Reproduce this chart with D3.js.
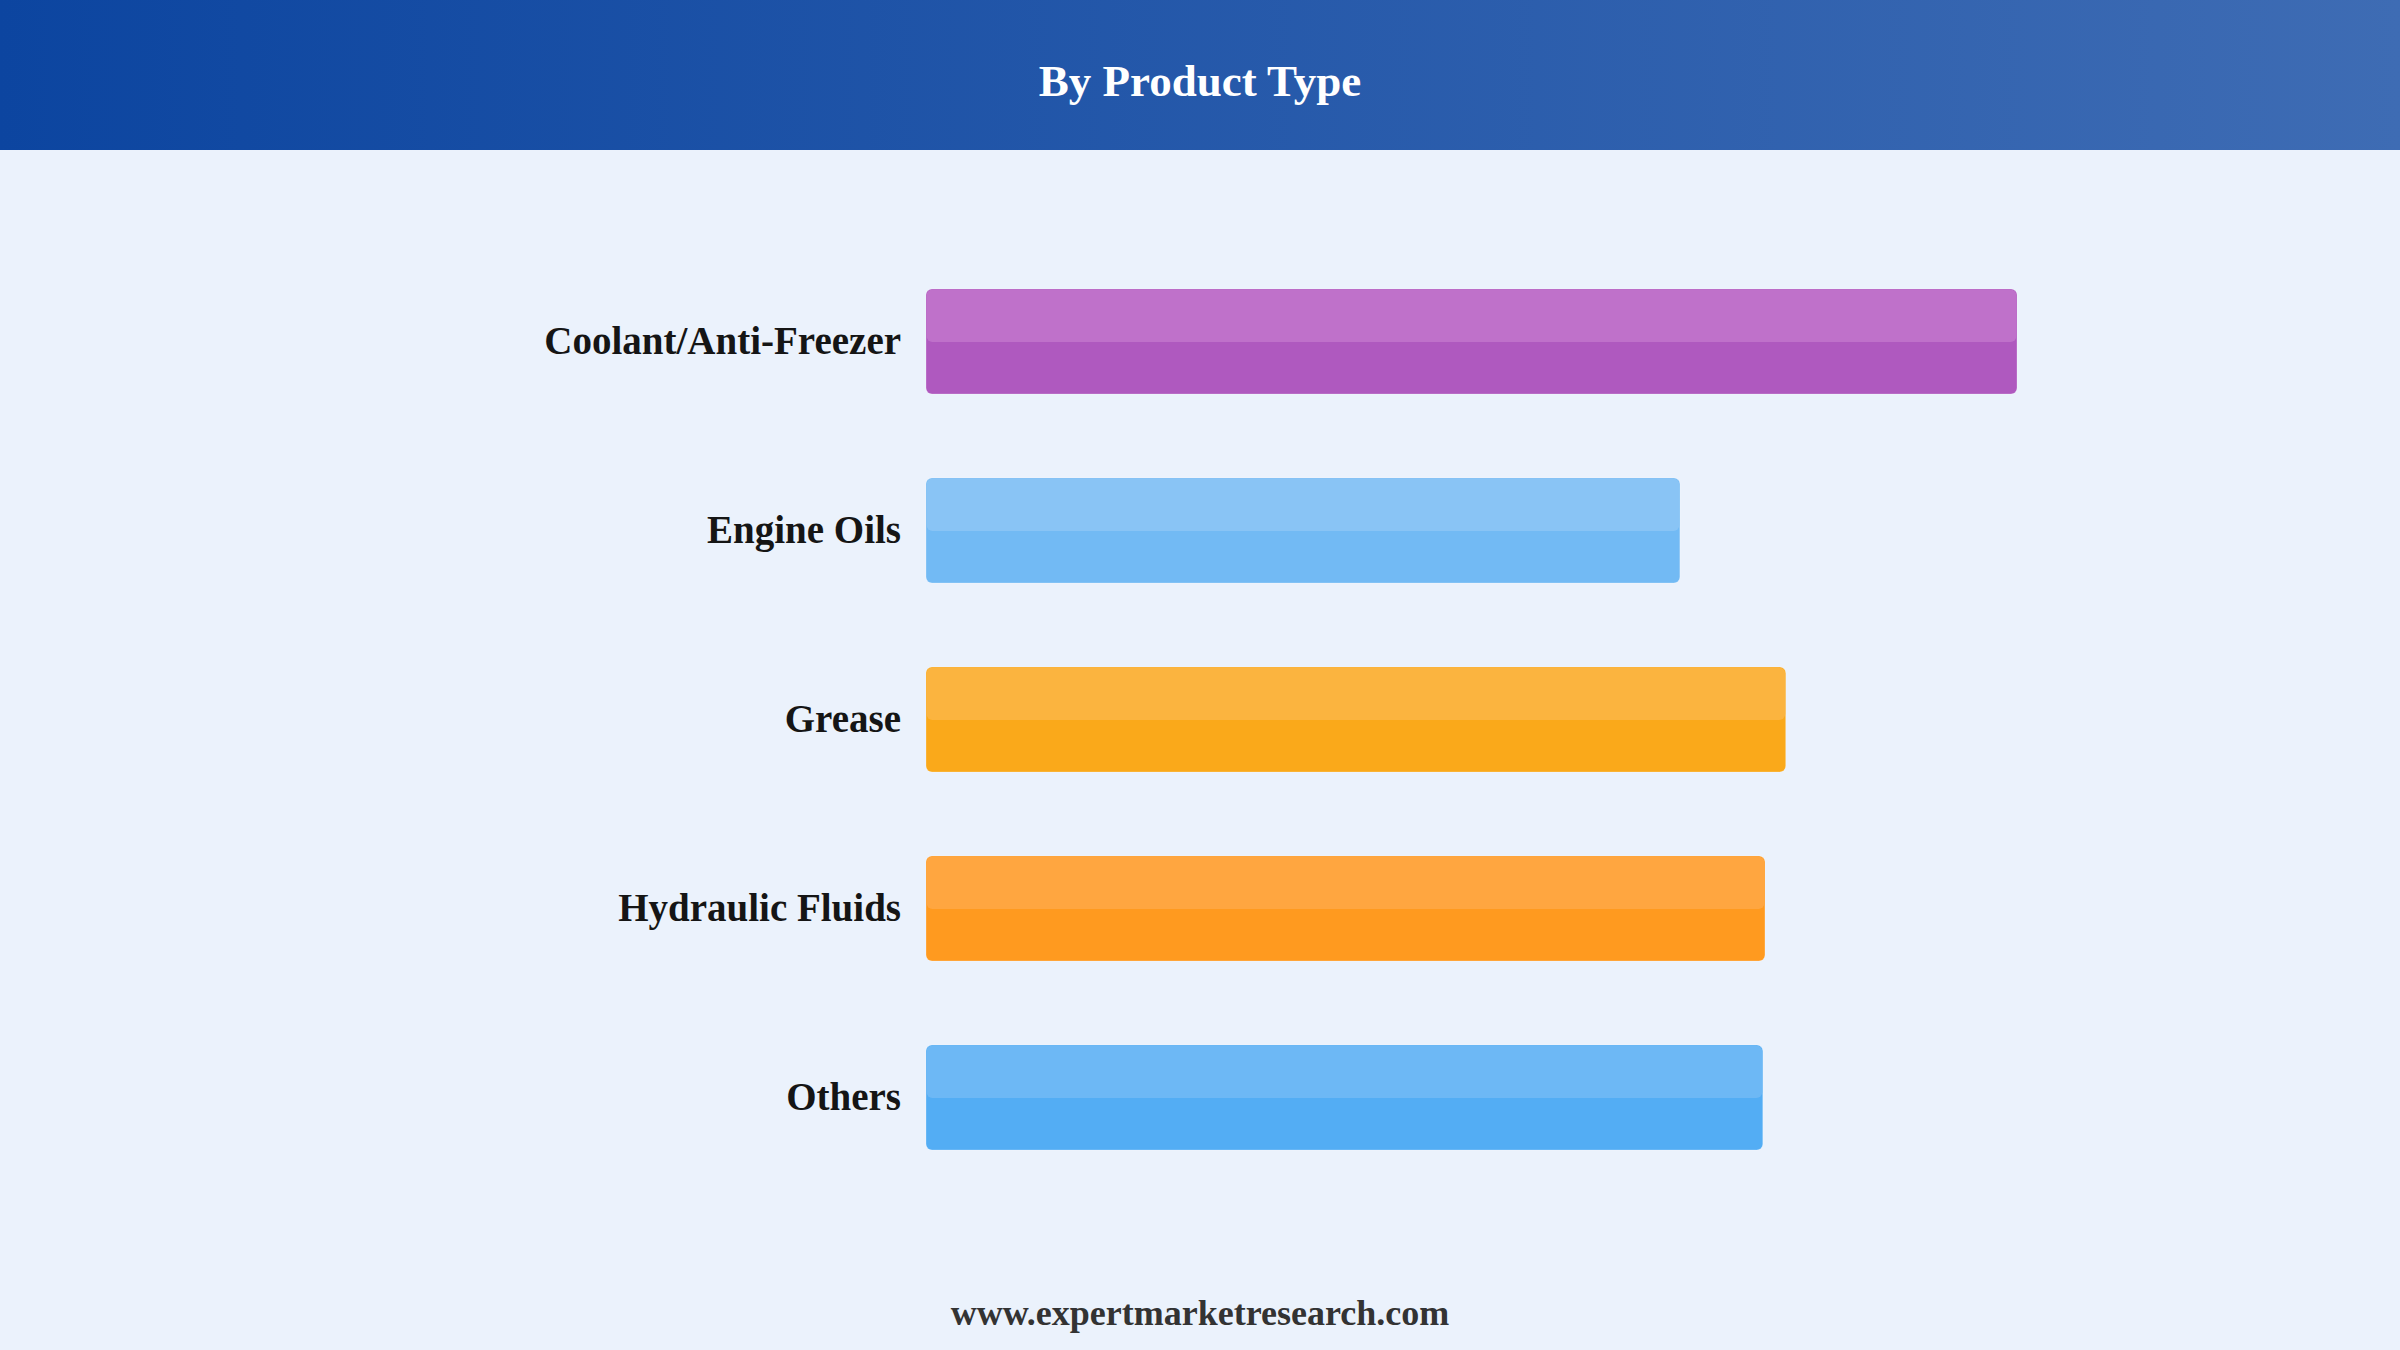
<!DOCTYPE html>
<html>
<head>
<meta charset="utf-8">
<script src="https://cdn.jsdelivr.net/npm/d3@7"></script>
<style>
  body { margin: 0; background: #ebf2fc; }
  svg { display: block; }
</style>
</head>
<body>
<svg width="2400" height="1350"></svg>
<script>
// Chart data (relative bar lengths, no axis shown)
const categories = ["Coolant/Anti-Freezer", "Engine Oils", "Grease", "Hydraulic Fluids", "Others"];
const values = [100, 69.1, 78.8, 76.9, 76.7];
const topColors = ["#bf71ca", "#89c4f5", "#fbb43f", "#ffa640", "#6db8f5"];
const bottomColors = ["#af59bf", "#72baf4", "#faa91a", "#ff9a1f", "#53adf4"];

const title = "By Product Type";
const footer = "www.expertmarketresearch.com";

const svg = d3.select("svg");
const W = +svg.attr("width");
const H = +svg.attr("height");
const headerH = 150;

// header gradient
const defs = svg.append("defs");
const grad = defs.append("linearGradient").attr("id", "hdr").attr("x1", "0%").attr("x2", "100%");
grad.append("stop").attr("offset", "0%").attr("stop-color", "#0c45a0");
grad.append("stop").attr("offset", "100%").attr("stop-color", "#3e6cb4");

svg.append("rect").attr("width", W).attr("height", H).attr("fill", "#ebf2fc");
svg.append("rect").attr("width", W).attr("height", headerH).attr("fill", "url(#hdr)");

svg.append("text")
  .attr("x", W / 2)
  .attr("y", 96)
  .attr("text-anchor", "middle")
  .attr("fill", "#fff")
  .style("font-family", "'Liberation Serif', 'Times New Roman', serif")
  .style("font-weight", "bold")
  .style("font-size", "45px")
  .text(title);

// scales
const left = 926;
const x = d3.scaleLinear().domain([0, d3.max(values)]).range([0, 1091]);
const y = d3.scaleBand().domain(categories).range([247, 1192]).paddingInner(0.444).paddingOuter(0.222);

const data = categories.map((c, i) => ({ cat: c, value: values[i], top: topColors[i], bottom: bottomColors[i] }));

const g = svg.append("g").attr("transform", `translate(${left},0)`);

const bar = g.selectAll(".bar").data(data).enter().append("g").attr("class", "bar");

// lower (full) bar
bar.append("rect")
  .attr("x", 0)
  .attr("y", d => y(d.cat))
  .attr("width", d => x(d.value))
  .attr("height", y.bandwidth())
  .attr("rx", 6)
  .attr("fill", d => d.bottom)
  .attr("stroke", "#fff")
  .attr("stroke-opacity", 0.25)
  .attr("stroke-width", 1);

// lighter top half
bar.append("rect")
  .attr("x", 0.5)
  .attr("y", d => y(d.cat) + 0.5)
  .attr("width", d => x(d.value) - 1)
  .attr("height", y.bandwidth() / 2)
  .attr("rx", 6)
  .attr("fill", d => d.top);

// category labels
g.selectAll(".label").data(data).enter().append("text")
  .attr("class", "label")
  .attr("x", -25)
  .attr("y", d => y(d.cat) + y.bandwidth() / 2)
  .attr("dy", "0.33em")
  .attr("text-anchor", "end")
  .attr("fill", "#151515")
  .style("font-family", "'Liberation Serif', 'Times New Roman', serif")
  .style("font-weight", "bold")
  .style("font-size", "39px")
  .text(d => d.cat);

// footer
svg.append("text")
  .attr("x", W / 2)
  .attr("y", 1325)
  .attr("text-anchor", "middle")
  .attr("fill", "#333")
  .style("font-family", "'Liberation Serif', 'Times New Roman', serif")
  .style("font-weight", "bold")
  .style("font-size", "36px")
  .text(footer);
</script>
</body>
</html>
